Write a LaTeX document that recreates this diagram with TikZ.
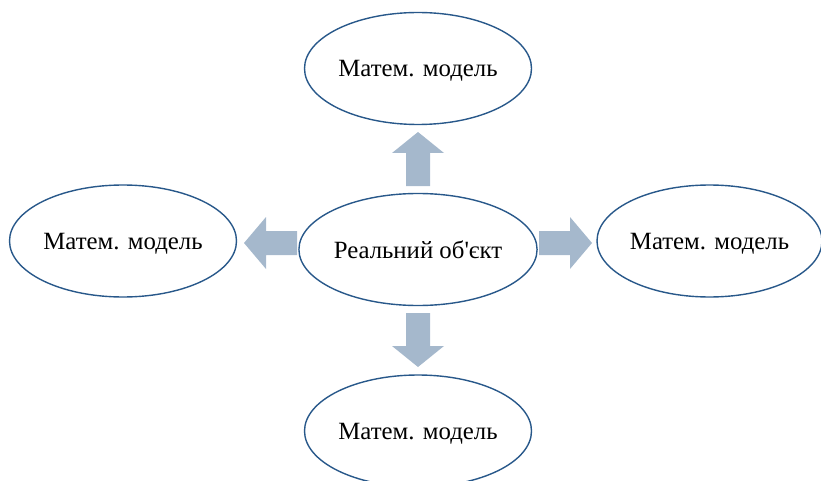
\documentclass[tikz,border=0pt]{standalone}
\usepackage{fontspec}
\newfontfamily\labelfont{Liberation Serif}
\usetikzlibrary{shapes.geometric}
\definecolor{ellline}{RGB}{40,88,138}
\definecolor{arrowfill}{RGB}{165,184,204}
\begin{document}
\begin{tikzpicture}[x=1pt,y=-1pt,
  oval/.style={ellipse,draw=ellline,line width=1.4pt,fill=white,inner sep=0pt,
    minimum width=227pt,minimum height=112pt,text depth=0pt,
    font=\labelfont\fontsize{24.8}{29}\selectfont,text=black},
  blockarrow/.style={fill=arrowfill,draw=none}]
\useasboundingbox (0,0) rectangle (821,481);
\node[oval] (top) at (418,68.5) {Матем. модель};
\node[oval] (left) at (123,241) {Матем. модель};
\node[oval] (center) at (418,249.5) {Реальний об'єкт};
\node[oval,minimum width=218pt] (right) at (709.5,241) {Матем. модель};
\node[oval] (bottom) at (418,431) {Матем. модель};
% up arrow
\fill[blockarrow] (406,186) -- (406,153) -- (392,153) -- (418,132) -- (444,153) -- (430,153) -- (430,186) -- cycle;
% down arrow
\fill[blockarrow] (406,313) -- (406,346) -- (392,346) -- (418,367) -- (444,346) -- (430,346) -- (430,313) -- cycle;
% left arrow
\fill[blockarrow] (297,231) -- (266,231) -- (266,217) -- (244,243) -- (266,269) -- (266,255) -- (297,255) -- cycle;
% right arrow
\fill[blockarrow] (539,231) -- (570,231) -- (570,217) -- (592,243) -- (570,269) -- (570,255) -- (539,255) -- cycle;
\end{tikzpicture}
\end{document}
